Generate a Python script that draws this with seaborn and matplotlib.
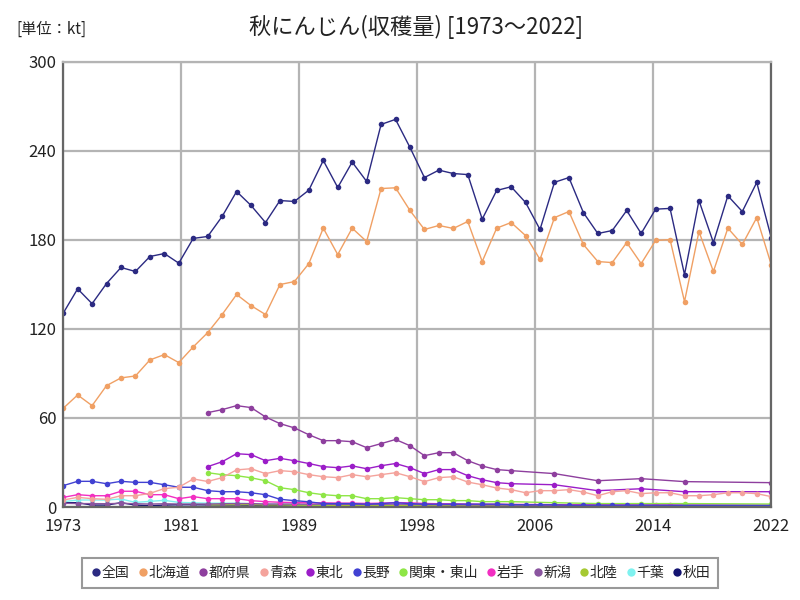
import numpy as np
import pandas as pd
import seaborn as sns
import matplotlib.pyplot as plt
from matplotlib.lines import Line2D

nan = np.nan
years = list(range(1973, 2023))

zenkoku = [130.6, 147.0, 137.0, 150.6, 161.4, 158.7, 168.8, 170.8, 164.3, 181.0,
           182.3, 195.8, 212.6, 203.2, 191.7, 206.5, 205.9, 213.5, 233.5, 215.3,
           232.4, 219.4, 257.8, 261.2, 242.3, 222.0, 227.0, 224.7, 224.0, 194.0,
           213.3, 215.8, 205.2, 187.0, 218.8, 222.0, 198.4, 184.3, 186.3, 199.8,
           184.3, 200.7, 201.2, 156.6, 206.5, 178.2, 209.7, 199.1, 218.7, 181.6]
hokkaido = [66.5, 75.5, 68.3, 81.8, 87.0, 88.3, 99.1, 102.7, 97.3, 107.9,
            117.5, 129.7, 143.2, 135.7, 129.7, 149.9, 151.9, 164.0, 187.9, 170.1,
            187.9, 178.9, 214.6, 215.1, 199.8, 187.0, 189.7, 187.7, 192.4, 165.4,
            187.9, 191.7, 182.9, 166.8, 195.0, 199.1, 176.9, 165.4, 164.7, 178.2,
            164.0, 179.6, 180.2, 138.4, 185.6, 158.7, 187.9, 176.9, 195.0, 163.4]
tofuken = [nan] * 10 + [
    63.6, 65.6, 68.3, 67.0, 60.7, 56.2, 53.3, 48.7, 44.7, 44.7,
    44.0, 40.0, 42.7, 45.5, 41.3, 34.6, 36.6, 36.6, 31.2, 27.6,
    25.2, 24.5, nan, nan, 22.5, nan, nan, 17.7, nan, nan,
    19.1, nan, nan, 17.1, nan, nan, nan, nan, nan, 16.4]
aomori = [4.7, 6.5, 5.6, 5.2, 7.6, 7.6, 9.2, 12.4, 13.3, 18.9,
          17.2, 19.8, 25.0, 25.8, 22.5, 24.5, 23.8, 21.8, 20.4, 19.8,
          21.8, 20.4, 21.8, 23.1, 20.4, 17.1, 19.8, 20.4, 16.8, 15.0,
          12.8, 11.7, 9.6, 11.0, 11.0, 11.7, 10.1, 7.6, 10.3, 11.0,
          9.0, 9.6, 9.6, 7.6, 7.6, 8.3, 9.6, 9.6, 9.0, 7.0]
tohoku = [nan] * 10 + [
    27.2, 30.5, 35.9, 35.3, 31.2, 32.8, 31.2, 29.3, 27.2, 26.5,
    27.7, 25.8, 27.8, 29.3, 26.5, 22.5, 25.2, 25.2, 21.1, 18.4,
    16.4, 15.7, nan, nan, 15.0, nan, nan, 11.0, nan, nan,
    12.3, nan, nan, 10.3, nan, nan, nan, nan, nan, 10.3]
nagano = [14.4, 17.3, 17.3, 15.7, 17.3, 16.6, 16.6, 15.0, 13.3, 13.3,
          11.0, 10.3, 10.3, 9.6, 8.3, 5.2, 4.3, 3.5, 2.3, 2.3,
          2.3, 1.9, 2.3, 2.9, 2.3, 1.9, 1.9, 1.9, 1.9, 1.9,
          1.9, 1.6, 1.5, 1.5, 1.5, 1.2, 1.2, 1.2, 1.2, 1.2,
          1.2, nan, nan, nan, nan, nan, nan, nan, nan, 1.0]
kanto = [nan] * 10 + [
    23.1, 21.8, 21.1, 19.7, 17.7, 13.0, 11.7, 9.6, 8.3, 7.6,
    7.6, 5.6, 5.6, 6.3, 5.6, 4.9, 4.9, 4.3, 4.3, 3.6,
    3.6, 3.6, nan, nan, 2.9, nan, nan, 2.3, nan, nan,
    2.3, nan, nan, 2.3, nan, nan, nan, nan, nan, 2.0]
iwate = [6.5, 8.3, 7.6, 7.6, 10.6, 10.6, 8.3, 8.3, 5.6, 7.0,
         5.6, 5.6, 5.6, 4.3, 3.6, 3.2, 3.0, 2.8, 2.8, 2.6,
         2.6, 2.4, 2.6, 3.0, 2.8, 2.4, 2.2, 2.2, 2.0, 1.9,
         1.9, 1.8, nan, nan, 1.6, nan, nan, 1.5, nan, nan,
         1.4, 1.4, 1.4, 1.3, nan, nan, nan, nan, nan, 1.2]
niigata = [2.5, 2.3, 2.3, 2.2, 2.5, 2.2, 2.0, 2.2, 2.0, 2.0,
           2.0, 2.2, 2.3, 2.3, 2.0, 2.0, 2.0, 1.9, 1.9, 1.8,
           1.8, 1.7, 1.8, 2.0, 1.8, 1.6, 1.6, 1.5, 1.5, 1.4,
           1.4, 1.3, nan, nan, 1.2, nan, nan, 1.1, nan, nan,
           1.0, nan, nan, 1.0, nan, nan, nan, nan, nan, 0.9]
hokuriku = [nan] * 10 + [
    1.5, 1.5, 1.6, 1.6, 1.4, 1.4, 1.3, 1.2, 1.2, 1.1,
    1.1, 1.0, 1.0, 1.1, 1.0, 0.9, 0.9, 0.9, 0.8, 0.8,
    0.8, 0.8, nan, nan, 0.7, nan, nan, 0.6, nan, nan,
    0.6, nan, nan, 0.5, nan, nan, nan, nan, nan, 0.5]
chiba = [3.6, 4.7, 4.7, 4.7, 5.4, 3.1, 3.8, 4.5, 3.1, 2.8,
         2.6, 2.6, 2.5, 2.2, 2.0, 1.8, 1.6, 1.4, 1.3, 1.2,
         1.1, 1.0, 1.0, 1.0, 0.9, 0.8, 0.8, 0.7, 0.7, 0.6,
         0.6, 0.6, nan, nan, 0.5, nan, nan, 0.5, nan, nan,
         0.4, nan, nan, 0.4, nan, nan, nan, nan, nan, 0.4]
akita = [2.9, 2.9, 1.3, 1.3, 2.9, 1.3, 0.9, 1.3, 1.5, 1.5,
         1.4, 1.3, 1.3, 1.2, 1.2, 1.1, 1.1, 1.0, 1.0, 1.0,
         0.9, 0.9, 0.9, 1.0, 0.9, 0.8, 0.8, 0.8, 0.7, 0.7,
         0.7, 0.7, nan, nan, 0.6, nan, nan, 0.6, nan, nan,
         0.5, nan, nan, 0.5, nan, nan, nan, nan, nan, 0.5]

series = {
    "全国": zenkoku, "北海道": hokkaido, "都府県": tofuken, "青森": aomori,
    "東北": tohoku, "長野": nagano, "関東・東山": kanto, "岩手": iwate,
    "新潟": niigata, "北陸": hokuriku, "千葉": chiba, "秋田": akita,
}
colors = {
    "全国": "#2b2a82", "北海道": "#f0a064", "都府県": "#8e3f9e", "青森": "#f4a39c",
    "東北": "#9b1dc8", "長野": "#4141d2", "関東・東山": "#8ee646", "岩手": "#f22fc2",
    "新潟": "#8a559f", "北陸": "#a6c932", "千葉": "#7ff2f0", "秋田": "#141471",
}

df = pd.DataFrame(series)
df["year"] = years
long = df.melt(id_vars="year", var_name="地域", value_name="kt").dropna()

sns.set_style("white")
plt.rcParams["font.family"] = ["Noto Sans CJK JP", "DejaVu Sans"]

fig = plt.figure(figsize=(8, 6), dpi=100)
ax = fig.add_axes([0.079, 0.155, 0.885, 0.742])

# draw in reverse so 全国 ends up on top
for name in list(series.keys())[::-1]:
    sub = long[long["地域"] == name]
    sns.lineplot(data=sub, x="year", y="kt", ax=ax, color=colors[name],
                 marker="o", markersize=4, markeredgewidth=0, linewidth=1,
                 estimator=None, legend=False)

ax.set_xlim(1973, 2022)
ax.set_ylim(0, 300)
xt = np.linspace(1973, 2022, 7)
ax.set_xticks(xt)
ax.set_xticklabels([str(int(np.floor(v + 0.5))) for v in xt])
ax.set_yticks(range(0, 301, 60))
ax.grid(True, color="#b4b4b4", linewidth=1.6)
ax.set_axisbelow(True)
ax.set_xlabel("")
ax.set_ylabel("")
ax.tick_params(axis="y", labelsize=12, length=0, pad=5, colors="#222222")
ax.tick_params(axis="x", labelsize=12, length=0, pad=8, colors="#222222")
for side in ["left", "right", "bottom"]:
    ax.spines[side].set_color("#666666")
    ax.spines[side].set_linewidth(1.6)
ax.spines["top"].set_color("#b4b4b4")
ax.spines["top"].set_linewidth(1.6)

fig.text(0.52, 0.955, "秋にんじん(収穫量) [1973～2022]", ha="center", va="center",
         fontsize=16, color="#222222")
fig.text(0.02, 0.952, "[単位：kt]", ha="left", va="center", fontsize=11, color="#222222")

handles = [Line2D([], [], marker="o", linestyle="", color=colors[n], markersize=6,
                  markeredgewidth=0) for n in series]
leg = fig.legend(handles, list(series.keys()), loc="center", bbox_to_anchor=(0.5, 0.045),
                 ncol=12, frameon=True, fancybox=False, fontsize=10,
                 handletextpad=-0.1, columnspacing=0.45, handlelength=1.0,
                 borderpad=0.55)
leg.get_frame().set_edgecolor("#808080")
leg.get_frame().set_linewidth(1.5)

fig.savefig("out.png", dpi=100)
